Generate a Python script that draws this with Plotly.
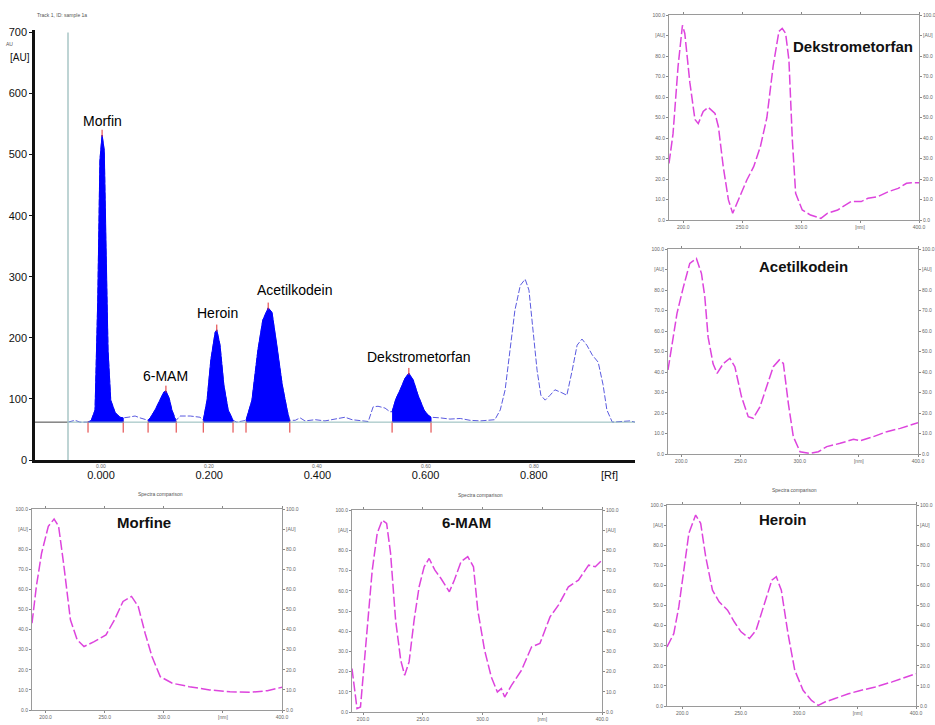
import plotly.graph_objects as go

W, H = 935, 725

# ---------------- main chromatogram data ----------------
rf = [-0.061, -0.057, -0.048, -0.039, -0.024, -0.018, -0.011, -0.006, -0.002, 0.002,
      0.006, 0.009, 0.013, 0.018, 0.026, 0.035, 0.041, 0.050, 0.063, 0.072,
      0.081, 0.087, 0.091, 0.100, 0.109, 0.116, 0.120, 0.126, 0.131, 0.139,
      0.146, 0.165, 0.183, 0.189, 0.196, 0.203, 0.211, 0.214, 0.220, 0.227,
      0.235, 0.244, 0.251, 0.261, 0.268, 0.279, 0.290, 0.299, 0.309, 0.316,
      0.325, 0.335, 0.344, 0.349, 0.359, 0.368, 0.377, 0.396, 0.414, 0.433,
      0.451, 0.464, 0.479, 0.494, 0.503, 0.512, 0.525, 0.534, 0.538, 0.545,
      0.553, 0.562, 0.569, 0.577, 0.586, 0.597, 0.604, 0.610, 0.627, 0.645,
      0.664, 0.682, 0.701, 0.719, 0.728, 0.738, 0.747, 0.756, 0.765, 0.775,
      0.784, 0.791, 0.799, 0.806, 0.813, 0.821, 0.830, 0.839, 0.852, 0.861,
      0.871, 0.880, 0.889, 0.898, 0.908, 0.919, 0.928, 0.935, 0.945, 0.959,
      0.978, 0.987]
au = [62, 63, 65, 62, 62, 65, 82, 262, 491, 532,
      507, 344, 180, 98, 78, 70, 69, 70, 72, 69,
      67, 65, 69, 82, 98, 111, 113, 101, 82, 65,
      72, 72, 70, 65, 98, 164, 209, 213, 188, 123,
      82, 65, 62, 64, 65, 98, 180, 229, 249, 242,
      188, 123, 82, 65, 65, 69, 64, 66, 64, 67,
      70, 66, 64, 63, 87, 88, 85, 79, 79, 100,
      115, 134, 142, 131, 106, 82, 74, 70, 69, 67,
      68, 65, 64, 65, 66, 82, 115, 180, 245, 286,
      296, 278, 213, 147, 106, 98, 106, 115, 110, 106,
      147, 188, 198, 188, 172, 160, 123, 82, 62, 63,
      64, 62]
baseline_au = 62
start_line_rf = -0.061

peak_names = ["Morfin", "6-MAM", "Heroin", "Acetilkodein", "Dekstrometorfan"]
peak_start = [-0.024, 0.087, 0.189, 0.268, 0.538]
peak_end = [0.041, 0.139, 0.244, 0.349, 0.610]
peak_apex_rf = [0.002, 0.120, 0.214, 0.309, 0.569]
peak_apex_au = [532, 113, 213, 249, 142]

au_ticks = [0, 100, 200, 300, 400, 500, 600, 700]
au_ticktext = ["0", "100", "200", "300", "400", "500", "600", "700"]
rf_ticks = [0.0, 0.2, 0.4, 0.6, 0.8, 0.94]
rf_ticktext = ["0.000", "0.200", "0.400", "0.600", "0.800", "[Rf]"]
rf_small_ticks = [0.0, 0.2, 0.4, 0.6, 0.8]
rf_small_text = ["0.00", "0.20", "0.40", "0.60", "0.80"]

# ---------------- spectra data ----------------
nm_ticks = [200, 250, 300, 350, 400]
nm_ticktext = ["200.0", "250.0", "300.0", "[nm]", "400.0"]
spec_ticks = [0, 10, 20, 30, 40, 50, 60, 70, 80, 90, 100]
spec_ticktext = ["0.0", "10.0", "20.0", "30.0", "40.0", "50.0", "60.0", "70.0", "80.0", "[AU]", "100.0"]

dekstro_nm = [188, 191.4, 195.7, 199.4, 201.4, 205.7, 210, 212.8, 217, 221.3, 227, 229.9, 234,
              238.4, 242, 247, 254, 259.8, 265.5, 271, 276.3, 281.2, 284, 286.9, 289.7, 292.6,
              295.4, 301, 308, 316.8, 322.5, 331, 342.4, 351, 356.7, 365.2, 374, 382.3, 389.4,
              393.7, 400]
dekstro_au = [27.6, 42, 75, 95, 91, 67, 49, 47, 53, 55, 52, 45.5, 26,
              9.8, 3.3, 9.8, 19.5, 26, 35.8, 50, 75, 92, 93.5, 91, 78, 39,
              13, 4.9, 2.4, 0.8, 3.3, 4.9, 9, 9, 10.6, 11.4, 13.8, 15.4, 17.9,
              18.2, 18.2]

acetil_nm = [188.7, 192.9, 196.3, 201.4, 207.1, 212.7, 217, 219.8, 222.6, 226.8, 230.2, 235.3,
             241, 245.2, 250.8, 256.5, 260.7, 266.4, 272, 277.7, 282.8, 286.2, 290.4, 294.6,
             300.3, 308.8, 315.8, 322.9, 334.2, 345.5, 351.1, 362.4, 373.7, 385, 393.5, 400]
acetil_au = [41, 55.6, 68.6, 80.8, 93, 95.4, 88, 76.7, 57, 44, 39.3, 44,
             46.7, 42.6, 28, 18.2, 17.4, 23, 32.8, 42.6, 45.9, 44.2, 24.7, 8.5,
             1.1, 0.3, 1.1, 3.6, 5.2, 7.2, 6.5, 8.5, 10.9, 12.5, 14.1, 15.3]

morfine_nm = [188.5, 192.2, 196.6, 202.3, 207.2, 211, 215.2, 221, 226.7, 232.5, 241.1, 251.1,
              258.3, 265.5, 272.7, 278.4, 284.2, 290, 297, 307.2, 321.6, 338.8, 356, 373.3,
              387.6, 400]
morfine_au = [43.2, 61.5, 78, 91.4, 95, 91.4, 73, 44.9, 34.9, 31.6, 34, 37.4,
              44.9, 54, 56.5, 51.5, 38.2, 26.6, 16.6, 13.3, 11.6, 10, 9.1, 8.8,
              9.6, 11.3]

mam_nm = [190.7, 192.7, 194.9, 197.8, 200.6, 203.9, 207.6, 211.8, 216, 219.7, 223, 227.2,
          231.5, 234.8, 238.5, 242.7, 246.9, 251.1, 255.3, 260.1, 265.2, 272.2, 276.4, 282,
          287.6, 292.4, 296, 301.7, 307.3, 312.4, 315.7, 318.5, 324.2, 332.6, 341, 348,
          356.5, 363.5, 371.9, 380.3, 388.8, 394.4, 400]
mam_au = [21.5, 12.4, 1.7, 2.5, 22.3, 45.5, 70, 88.4, 95, 93.4, 78.5, 45.5,
          25.6, 18.2, 24.8, 45.5, 62, 71.9, 76, 70.2, 66.1, 59.5, 65.3, 74.4,
          76.9, 71.9, 50.4, 30.6, 17.4, 9.9, 11.6, 7.4, 13.2, 20.7, 32.2, 33.9,
          47.1, 52.9, 62, 65.3, 72.7, 71.9, 75.2]

heroin_nm = [187, 192.8, 197.1, 201.4, 205.7, 211.5, 215.8, 220.1, 225.9, 231.6, 238.8, 244.5,
             250.3, 257.5, 263.2, 270.4, 276.7, 280.5, 284.8, 290.5, 296.3, 303.4, 310.6, 316.4,
             322.1, 330.7, 342.2, 350.9, 365.2, 379.6, 391.1, 400]
heroin_au = [29.4, 36, 49.3, 67.6, 85.9, 95, 90.9, 74.3, 57.6, 51.8, 47.7, 41.9,
             36.9, 33.6, 37.7, 51, 62.6, 64.3, 57.6, 36, 17.8, 7.8, 2.8, 0.3,
             2, 3.7, 6.1, 7.5, 9.5, 12, 14.5, 16.1]

spectra_titles = ["Dekstrometorfan", "Acetilkodein", "Morfine", "6-MAM", "Heroin"]
spectra_nm = [dekstro_nm, acetil_nm, morfine_nm, mam_nm, heroin_nm]
spectra_au = [dekstro_au, acetil_au, morfine_au, mam_au, heroin_au]

# ---------------- layout geometry (pixels) ----------------
FONT = "Liberation Sans, Arial, sans-serif"


def dom_x(a, b):
    return [a / W, b / W]


def dom_y(top, bottom):
    return [1 - bottom / H, 1 - top / H]


# panel boxes: (left, right, top, bottom, nm_min)
spec_boxes = [
    (669, 919, 15, 220, 188.0),
    (668, 918, 249, 454, 188.7),
    (32, 282, 509, 710, 188.5),
    (352, 602, 510, 712, 190.7),
    (667, 916, 505, 706, 187.0),
]
title_pos = [(0.736, 0.845), (0.54, 0.917), (0.448, 0.935), (0.456, 0.94), (0.466, 0.93)]
show_comparison = [False, False, True, True, True]

fig = go.Figure()

# main dashed densitogram line
fig.add_trace(go.Scatter(x=rf, y=au, mode="lines",
                         line=dict(color="#5a5ae0", width=1, dash="6px,2px"),
                         xaxis="x", yaxis="y", hoverinfo="skip"))

# filled peaks
for s, e in zip(peak_start, peak_end):
    px_ = [r for r in rf if s <= r <= e]
    py_ = [v for r, v in zip(rf, au) if s <= r <= e]
    fig.add_trace(go.Scatter(x=px_ + [e, s], y=py_ + [baseline_au, baseline_au],
                             mode="lines", fill="toself", fillcolor="#0000ff",
                             line=dict(color="#0000ff", width=1),
                             xaxis="x", yaxis="y", hoverinfo="skip"))

# red integration marks
bx = peak_start + peak_end
fig.add_trace(go.Scatter(x=bx, y=[baseline_au - 8] * len(bx), mode="markers",
                         marker=dict(symbol="line-ns", size=8, line=dict(color="#e03030", width=1)),
                         xaxis="x", yaxis="y", hoverinfo="skip"))
fig.add_trace(go.Scatter(x=peak_apex_rf, y=[v + 3 for v in peak_apex_au], mode="markers",
                         marker=dict(symbol="line-ns", size=5, line=dict(color="#e03030", width=1)),
                         xaxis="x", yaxis="y", hoverinfo="skip"))

# spectra
for i, (xs, ys) in enumerate(zip(spectra_nm, spectra_au)):
    fig.add_trace(go.Scatter(x=xs, y=ys, mode="lines",
                             line=dict(color="#dd44dd", width=1.5, dash="10px,3px"),
                             xaxis=f"x{i + 2}", yaxis=f"y{i + 2}", hoverinfo="skip"))

layout = dict(
    width=W, height=H, margin=dict(l=0, r=0, t=0, b=0, autoexpand=False),
    paper_bgcolor="white", plot_bgcolor="white", showlegend=False,
    font=dict(family=FONT, color="#222"),
    xaxis=dict(domain=dom_x(35, 635), range=[-0.122, 0.987], anchor="y", automargin=False,
               tickmode="array", tickvals=rf_ticks, ticktext=rf_ticktext,
               tickfont=dict(size=11, color="#111"), ticks="", ticklabelstandoff=3, showgrid=False,
               zeroline=False, showline=True, linecolor="#111", linewidth=2.5),
    yaxis=dict(domain=dom_y(30, 460), range=[0, 704], anchor="x", automargin=False,
               tickmode="array", tickvals=au_ticks, ticktext=au_ticktext,
               tickfont=dict(size=11, color="#111"), ticks="outside", ticklen=3,
               tickcolor="#111", showgrid=False, zeroline=False,
               showline=True, linecolor="#111", linewidth=2.5),
)

annotations = []
shapes = []

for i, (l, r, t, b, nmin) in enumerate(spec_boxes):
    k = i + 2
    kr = i + 7
    layout[f"xaxis{k}"] = dict(domain=dom_x(l, r), range=[nmin, 400], anchor=f"y{k}", automargin=False,
                               tickmode="array", tickvals=nm_ticks, ticktext=nm_ticktext,
                               tickfont=dict(size=5, color="#666"), ticks="outside", ticklen=2,
                               tickcolor="#888", showgrid=False, zeroline=False,
                               showline=True, linecolor="#9a9a9a", linewidth=1, mirror="ticks")
    layout[f"yaxis{k}"] = dict(domain=dom_y(t, b), range=[0, 100], anchor=f"x{k}", automargin=False,
                               tickmode="array", tickvals=spec_ticks, ticktext=spec_ticktext,
                               tickfont=dict(size=5, color="#666"), ticks="outside", ticklen=2,
                               tickcolor="#888", showgrid=False, zeroline=False,
                               showline=True, linecolor="#9a9a9a", linewidth=1, mirror=True)
    layout[f"yaxis{kr}"] = dict(overlaying=f"y{k}", side="right", range=[0, 100], anchor=f"x{k}",
                                automargin=False,
                                tickmode="array", tickvals=spec_ticks, ticktext=spec_ticktext,
                                tickfont=dict(size=5, color="#666"), ticks="outside", ticklen=2,
                                tickcolor="#888", showgrid=False, zeroline=False, showline=False)
    tx, ty = title_pos[i]
    annotations.append(dict(text=f"<b>{spectra_titles[i]}</b>", xref=f"x{k} domain", yref=f"y{k} domain",
                            x=tx, y=ty, xanchor="center", yanchor="middle", showarrow=False,
                            font=dict(size=15, color="#111", family=FONT)))
    if show_comparison[i]:
        annotations.append(dict(text="Spectra comparison", xref=f"x{k} domain", yref=f"y{k} domain",
                                x=0.512, y=1.075, xanchor="center", yanchor="middle", showarrow=False,
                                font=dict(size=5, color="#555", family=FONT)))

# dummy traces so right axes render
for i in range(5):
    fig.add_trace(go.Scatter(x=[None], y=[None], xaxis=f"x{i + 2}", yaxis=f"y{i + 7}",
                             hoverinfo="skip", showlegend=False))

# main chart labels
label_dx = [0, 0, 1, 27, 10]
label_dy = [14, 15, 17, 18, 16]
for name, x0, y0, dx, dy in zip(peak_names, peak_apex_rf, peak_apex_au, label_dx, label_dy):
    annotations.append(dict(text=name, x=x0, y=y0, xref="x", yref="y", xshift=dx, yshift=dy,
                            xanchor="center", yanchor="middle",
                            showarrow=False, font=dict(size=14, color="#000", family=FONT)))

for v, txt in zip(rf_small_ticks, rf_small_text):
    annotations.append(dict(text=txt, x=v, y=0, xref="x", yref="y", yshift=-1, yanchor="top",
                            xanchor="center",
                            showarrow=False, font=dict(size=5, color="#666", family=FONT)))

annotations.append(dict(text="[AU]", x=20 / W, y=1 - 57 / H, xref="paper", yref="paper",
                        xanchor="center", yanchor="middle",
                        showarrow=False, font=dict(size=10, color="#111", family=FONT)))
annotations.append(dict(text="AU", x=9 / W, y=1 - 44 / H, xref="paper", yref="paper",
                        xanchor="center", yanchor="middle",
                        showarrow=False, font=dict(size=5, color="#555", family=FONT)))
annotations.append(dict(text="Track 1, ID: sample 1a", x=35 / W, y=1 - 15 / H, xref="paper", yref="paper",
                        xanchor="left", yanchor="middle",
                        showarrow=False, font=dict(size=5, color="#555", family=FONT)))

# baseline and start line
shapes.append(dict(type="line", xref="x", yref="y", x0=-0.122, x1=start_line_rf,
                   y0=baseline_au, y1=baseline_au, line=dict(color="#444", width=1)))
shapes.append(dict(type="line", xref="x", yref="y", x0=start_line_rf, x1=0.987,
                   y0=baseline_au, y1=baseline_au, line=dict(color="#8fb8b8", width=1)))
shapes.append(dict(type="line", xref="x", yref="y", x0=start_line_rf, x1=start_line_rf,
                   y0=0, y1=700, line=dict(color="#a9c6c6", width=1.5)))

layout["annotations"] = annotations
layout["shapes"] = shapes
fig.update_layout(**layout)

fig.write_html("out.html", config={"displayModeBar": False},
               post_script="document.body.style.margin='0';document.body.style.overflow='hidden';")
